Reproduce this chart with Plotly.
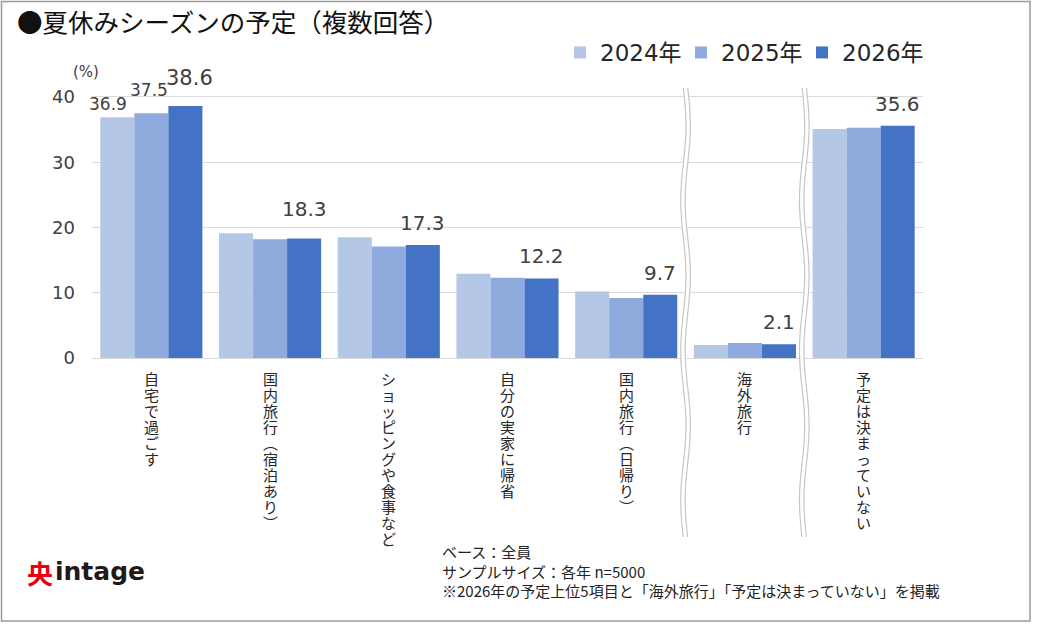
import math
import plotly.graph_objects as go

# ---------------- data ----------------
categories = ["自宅で過ごす", "国内旅行(宿泊あり)", "ショッピングや食事など",
              "自分の実家に帰省", "国内旅行(日帰り)", "海外旅行", "予定は決まっていない"]
years = ["2024年", "2025年", "2026年"]
v2024 = [36.9, 19.1, 18.5, 12.9, 10.2, 2.0, 35.1]
v2025 = [37.5, 18.2, 17.1, 12.3, 9.2, 2.3, 35.3]
v2026 = [38.6, 18.3, 17.3, 12.2, 9.7, 2.1, 35.6]
y_ticks = [0, 10, 20, 30, 40]
title_text = "●夏休みシーズンの予定（複数回答）"
unit_text = "(%)"
footnotes = ["ベース：全員", "サンプルサイズ：各年 n=5000",
             "※2026年の予定上位5項目と「海外旅行」「予定は決まっていない」を掲載"]
break_positions = [4.5, 5.5]   # axis breaks between categories

# ---------------- style ----------------
colors = ["#b4c7e7", "#8faadc", "#4472c4"]
W, H = 1043, 624
L, R, T, B = 92, 120, 95, 266
PW, PH = W - L - R, H - T - B
BARGAP = 0.14
JP = "Noto Sans CJK JP"
NUM = "DejaVu Sans, Noto Sans CJK JP"
TXT = "#404040"

VERT = {"(": "︵", ")": "︶", "（": "︵", "）": "︶"}


def vertical(s):
    return "<br>".join('<span style="font-size:15px">%s</span>' % VERT.get(c, c) for c in s)


def py2paper(py):
    return (T + PH - py) / PH


def px2paper(px):
    return (px - L) / PW


series = [v2024, v2025, v2026]
x_idx = list(range(len(categories)))

fig = go.Figure()
for name, vals, col in zip(years, series, colors):
    fig.add_trace(go.Bar(x=x_idx, y=vals, name=name, marker_color=col,
                         marker_line_width=0, hoverinfo="x+y"))

ann = []
bw = (1 - BARGAP) / 3
# labels: all of 2026, plus 2024/2025 for first category  (series, cat, size, lift, xshift)
label_specs = [(2, i, 20, 8, 0) for i in x_idx]
label_specs[0] = (2, 0, 21, 14, 4)
label_specs[1] = (2, 1, 20, 16, 0)
label_specs += [(0, 0, 17, 1, -9), (1, 0, 17, 11, -2)]
for k, i, fs, lift, xs in label_specs:
    ann.append(dict(x=i + (k - 1) * bw, y=series[k][i], xref="x", yref="y",
                    text="%.1f" % series[k][i], showarrow=False,
                    yanchor="bottom", xanchor="center", yshift=lift, xshift=xs,
                    font=dict(family=NUM, size=fs, color=TXT)))

# vertical category labels
for i, c in zip(x_idx, categories):
    ann.append(dict(x=i, y=py2paper(366), xref="x", yref="paper",
                    text=vertical(c), showarrow=False, xanchor="center",
                    yanchor="top", align="center",
                    font=dict(family=JP, size=12.3, color="#262626")))

ann.append(dict(x=px2paper(86), y=py2paper(72), xref="paper", yref="paper",
                text=unit_text, showarrow=False, xanchor="center", yanchor="middle",
                font=dict(family="DejaVu Sans", size=15, color=TXT)))
ann.append(dict(x=px2paper(440), y=py2paper(539), xref="paper", yref="paper",
                text="<br>".join(footnotes), showarrow=False, xanchor="left",
                yanchor="top", align="left",
                font=dict(family=JP, size=15, color="#222222")))
# logo
ann.append(dict(x=px2paper(25), y=py2paper(572), xref="paper", yref="paper",
                text="<b>央</b>", showarrow=False, xanchor="left", yanchor="middle",
                font=dict(family=JP, size=26, color="#e60012")))
ann.append(dict(x=px2paper(53), y=py2paper(571), xref="paper", yref="paper",
                text="<b>intage</b>", showarrow=False, xanchor="left", yanchor="middle",
                font=dict(family="DejaVu Sans", size=25, color="#231815")))

shapes = []
# frame
shapes.append(dict(type="rect", xref="paper", yref="paper",
                   x0=px2paper(1.5), x1=px2paper(1030),
                   y0=py2paper(621), y1=py2paper(1.5),
                   line=dict(color="#9a9a9a", width=1.5), layer="below"))
# wavy break marks
px_x = 1.0 / (PW / len(categories))
for bp in break_positions:
    y_top, y_bot = 88, 537
    n = 90
    for off, col, wd in [(0, "white", 6), (-2.2, "#c6c6c6", 1.2), (2.2, "#c6c6c6", 1.2)]:
        pts = []
        for j in range(n + 1):
            py = y_top + (y_bot - y_top) * j / n
            dx = 2.6 * math.sin(2 * math.pi * (py - y_top) / 150.0)
            pts.append("%.5f,%.5f" % (bp + (dx + off) * px_x, py2paper(py)))
        shapes.append(dict(type="path", xref="x", yref="paper",
                           path="M" + " L".join(pts),
                           line=dict(color=col, width=wd)))

fig.update_layout(
    width=W, height=H, margin=dict(l=L, r=R, t=T, b=B),
    paper_bgcolor="white", plot_bgcolor="white",
    barmode="group", bargap=BARGAP, bargroupgap=0,
    title=dict(text=title_text, x=17 / W, xref="container", xanchor="left",
               y=1 - 23 / H, yref="container", yanchor="middle",
               font=dict(family=JP, size=25.5, color="#111111")),
    legend=dict(orientation="h", x=px2paper(560), xanchor="left",
                y=py2paper(31), yanchor="top",
                font=dict(family=NUM, size=23, color="#262626"),
                itemwidth=30, entrywidth=76, entrywidthmode="pixels",
                traceorder="normal", bgcolor="rgba(0,0,0,0)"),
    xaxis=dict(range=[-0.5, len(categories) - 0.5], tickvals=x_idx,
               showticklabels=False, showgrid=False,
               zeroline=False, showline=True, linecolor="#d9d9d9", linewidth=1,
               ticks="", fixedrange=True),
    yaxis=dict(range=[0, 40.3], tickvals=y_ticks, showgrid=True,
               gridcolor="#d9d9d9", gridwidth=1, zeroline=False, ticks="",
               ticklabelstandoff=16,
               tickfont=dict(family=NUM, size=18, color=TXT), fixedrange=True),
    annotations=ann, shapes=shapes, showlegend=True,
)

fig.write_html("out.html")
